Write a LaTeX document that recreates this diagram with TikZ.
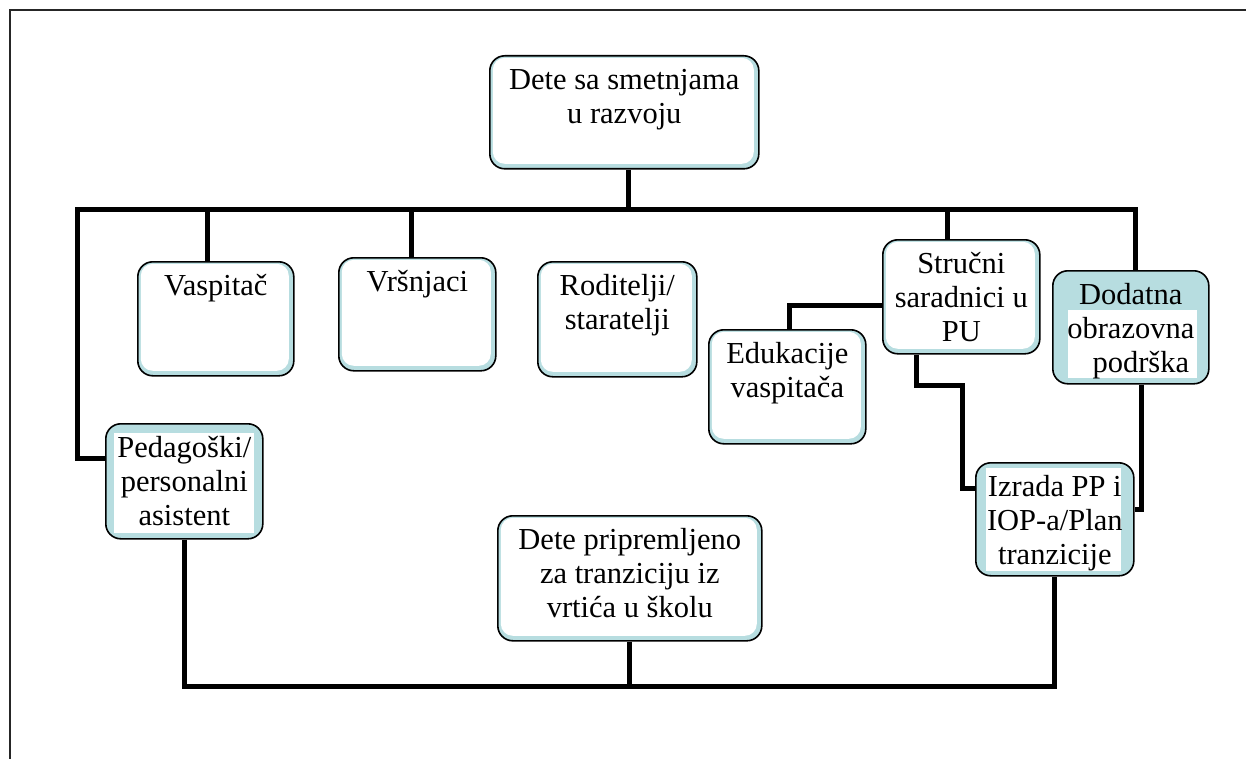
\documentclass[tikz,border=0pt]{standalone}
\usepackage{fontspec}
\setmainfont{Liberation Serif}
\usepackage{tikz}
\definecolor{boxblue}{RGB}{183,221,224}
\newcommand{\boxtext}[3]{\parbox[t][#2][t]{#1}{\centering\rule{0pt}{31pt}#3\par}}

\begin{document}
\begin{tikzpicture}[x=1pt, y=-1pt,
		box_style/.style={draw=black, line width=1.6pt, rounded corners=15pt, fill=boxblue, inner sep=3pt, anchor=north west, font=\fontsize{30.5}{34}\selectfont},
		shade_style/.style={path picture={\fill[white, rounded corners=12pt] ([shift={(3pt,-2pt)}]path picture bounding box.north west) rectangle ([shift={(-5pt,5pt)}]path picture bounding box.south east);}},
		mark_style/.style n args={4}{path picture={\fill[white, sharp corners] ([shift={(#1pt,-#2pt)}]path picture bounding box.north west) rectangle ([shift={(-#3pt,#4pt)}]path picture bounding box.south east);}},
		edge_style/.style={draw=black, line width=5pt, line join=miter},
		frame_style/.style={draw=black!85, line width=1.6pt}]
		
		\useasboundingbox (0,0) rectangle (1246,759);
		\draw[frame_style] (10,759) -- (10,10) -- (1246,10);
		
		\node[box_style, shade_style] (top_box) at (489,55) {\boxtext{263pt}{107pt}{Dete sa smetnjama\\u razvoju}};
		\node[box_style, shade_style] (vasp) at (137,261) {\boxtext{150pt}{108pt}{Vaspitač}};
		\node[box_style, shade_style] (vrs) at (338,257) {\boxtext{151pt}{107pt}{Vršnjaci}};
		\node[box_style, shade_style] (rod) at (537,261) {\boxtext{153pt}{109pt}{Roditelji/\\staratelji}};
		\node[box_style, shade_style] (edu) at (708,329) {\boxtext{151pt}{108pt}{Edukacije\\vaspitača}};
		\node[box_style, shade_style] (stru) at (882,239) {\boxtext{151pt}{108pt}{Stručni\\saradnici u\\PU}};
		\node[box_style, mark_style={15}{39}{12}{6}] (dod) at (1052,270) {\boxtext{150pt}{107pt}{Dodatna\\obrazovna\\\hspace*{20pt}podrška}};
		\node[box_style, mark_style={10}{5}{13}{5}] (izr) at (975,462) {\boxtext{152pt}{107pt}{Izrada PP i\\IOP-a/Plan\\tranzicije}};
		\node[box_style, mark_style={8}{9}{9}{6}] (ped) at (105,423) {\boxtext{151pt}{109pt}{Pedagoški/\\personalni\\asistent}};
		\node[box_style, shade_style] (dete2) at (497,515) {\boxtext{258pt}{119pt}{Dete pripremljeno\\za tranziciju iz\\vrtića u školu}};
		
		\coordinate (j_ped) at (77,210);
		\coordinate (j_vasp) at (207,210);
		\coordinate (j_vrs) at (411,210);
		\coordinate (j_top) at (628,210);
		\coordinate (j_stru) at (947,210);
		\coordinate (j_dod) at (1135,210);
		\coordinate (bend_izr) at (962,385);
		\coordinate (bus_bot) at (628,686);
		
		\draw[edge_style] ([yshift=23pt]ped.west) -| (j_ped) -- (j_dod) -- (j_dod |- dod.north);
		\draw[edge_style] (top_box.south -| j_top) -- (j_top);
		\draw[edge_style] (j_vasp) -- (j_vasp |- vasp.north);
		\draw[edge_style] (j_vrs) -- (j_vrs |- vrs.north);
		\draw[edge_style] (j_stru) -- (j_stru |- stru.north);
		\draw[edge_style] ([yshift=-9pt]stru.west) -| ([xshift=2pt]edu.north);
		\draw[edge_style] ([xshift=-45pt]stru.south) |- (bend_izr) |- ([yshift=31pt]izr.west);
		\draw[edge_style] ([xshift=11pt]dod.south) |- ([yshift=10pt]izr.east);
		\draw[edge_style] (ped.south) |- (bus_bot) -| (izr.south);
		\draw[edge_style] (dete2.south) -- (dete2.south |- bus_bot);
		
\end{tikzpicture}
\end{document}
